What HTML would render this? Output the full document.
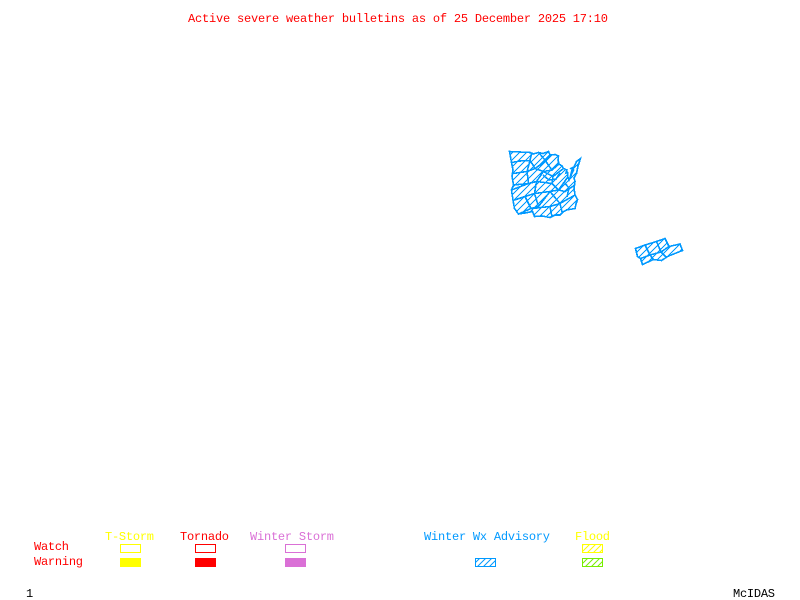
<!DOCTYPE html>
<html>
<head>
<meta charset="utf-8">
<style>
html,body{margin:0;padding:0;background:#fff;width:800px;height:600px;overflow:hidden}
svg{display:block}
text{font-family:"Liberation Mono",monospace;font-size:12px}
.m{fill:none;stroke:#0099ff;stroke-width:1.6;shape-rendering:crispEdges}
</style>
</head>
<body>
<svg width="800" height="600" viewBox="0 0 800 600" xmlns="http://www.w3.org/2000/svg">
<defs>
<pattern id="hm" width="7" height="7" patternUnits="userSpaceOnUse">
<path d="M-2 2L2 -2M0 7L7 0M5 9L9 5" stroke="#0099ff" stroke-width="1.3" fill="none" shape-rendering="crispEdges"/>
</pattern>
<pattern id="hb" width="6" height="6" patternUnits="userSpaceOnUse">
<path d="M-2 2L2 -2M0 6L6 0M4 8L8 4" stroke="#0099ff" stroke-width="1" fill="none"/>
</pattern>
<pattern id="hy" width="6" height="6" patternUnits="userSpaceOnUse">
<path d="M-2 2L2 -2M0 6L6 0M4 8L8 4" stroke="#ffff00" stroke-width="1" fill="none"/>
</pattern>
<pattern id="hg" width="6" height="6" patternUnits="userSpaceOnUse">
<path d="M-2 2L2 -2M0 6L6 0M4 8L8 4" stroke="#76ee00" stroke-width="1" fill="none"/>
</pattern>
</defs>

<text x="188" y="22" fill="#ff0000" textLength="420" lengthAdjust="spacing">Active severe weather bulletins as of 25 December 2025 17:10</text>

<!-- main advisory area -->
<polygon class="m" style="fill:url(#hm)" points="509.5,151.5 520,152 530,152.5 533,154 538.5,152.5 543,153.5 548.5,151.5 550,155 555,154.5 558.5,156 558,160 559,164 562,166 563.5,168.5 567,170 566,173 567.5,172.5 568,177.5 569,180 573.5,170 571,168.5 574,167 576.5,161.5 580.5,158.5 578,166 576.5,173.5 574,178 575,181.5 574,188 575,195 577.5,199.5 576,204 575,208.5 566.5,210 563,212 560,215 555,215 550,217.5 542,216 534.5,216.5 532.5,211.5 525,213 518.5,214 514.5,208.5 513,200 511.5,190 513.5,185 512,176 513,170 511.5,162.5"/>
<g class="m">
<path d="M511.5 162.5L520 161L530 160.5L532 152.5"/>
<path d="M530 160.5L533 165L535 168.5L540 165L545 160L538.5 152.5"/>
<path d="M545 160L550 155"/>
<path d="M545 160L549 166L552 170L559 164"/>
<path d="M513 173.5L527 171.5L530 160.5"/>
<path d="M527 171.5L535 168.5L543.5 171.5L552 170"/>
<path d="M513.5 185L528.5 183.5L527 171.5"/>
<path d="M528.5 183.5L536.5 181.5L543.5 171.5L553 176.5L563.5 168.5"/>
<path d="M511.5 190L528.5 183.5"/>
<path d="M536.5 181.5L534.5 193.5L525 196.5L531 208.5L518.5 214"/>
<path d="M514.5 200L525 196.5"/>
<path d="M536.5 181.5L552 183.5L553 176.5"/>
<path d="M552 183.5L558.5 190L567.5 177.5"/>
<path d="M534.5 193.5L550 191.5L558.5 190"/>
<path d="M534.5 193.5L538.5 206.5L531 208.5"/>
<path d="M538.5 206.5L550 191.5L560 203.5L575 195"/>
<path d="M532.5 208.5L550 206.5L560 203.5"/>
<path d="M550 206.5L552 217"/>
<path d="M560 203.5L562 212"/>
<path d="M558.5 190L565 191.5L575 185"/>
<path d="M543 175L549 180L556 179L560 173"/>
<path d="M564 182L569 188L567 197"/>
<path d="M570 178L572 170"/>
</g>

<!-- second advisory area -->
<polygon class="m" style="fill:url(#hm)" points="635.5,248.5 645,245 656.5,241.5 665,238.5 669,246.5 680,244 682.5,250.5 668.5,256 661.5,260.5 653.5,259.5 642.5,264.5 640.5,258.5 637.5,256.5"/>
<g class="m">
<path d="M645 245L650 255L640.5 258.5"/>
<path d="M656.5 241.5L661 252L650 255L653.5 259.5"/>
<path d="M661 252L669 246.5"/>
<path d="M661 252L666 257"/>
</g>

<!-- legend -->
<text x="105" y="540" fill="#ffff00" textLength="49">T-Storm</text>
<text x="180" y="540" fill="#ff0000" textLength="49">Tornado</text>
<text x="250" y="540" fill="#da70d6" textLength="84">Winter Storm</text>
<text x="424" y="540" fill="#0099ff" textLength="126">Winter Wx Advisory</text>
<text x="575" y="540" fill="#ffff00" textLength="35">Flood</text>
<text x="34" y="550" fill="#ff0000" textLength="35">Watch</text>
<text x="34" y="565" fill="#ff0000" textLength="49">Warning</text>

<g shape-rendering="crispEdges" stroke-width="1">
<rect x="120.5" y="544.5" width="20" height="8" fill="none" stroke="#ffff00"/>
<rect x="195.5" y="544.5" width="20" height="8" fill="none" stroke="#ff0000"/>
<rect x="285.5" y="544.5" width="20" height="8" fill="none" stroke="#da70d6"/>
<rect x="120" y="558" width="21" height="9" fill="#ffff00"/>
<rect x="195" y="558" width="21" height="9" fill="#ff0000"/>
<rect x="285" y="558" width="21" height="9" fill="#da70d6"/>
</g>
<rect x="475.5" y="558.5" width="20" height="8" fill="url(#hb)" stroke="#0099ff"/>
<rect x="582.5" y="544.5" width="20" height="8" fill="url(#hy)" stroke="#ffff00"/>
<rect x="582.5" y="558.5" width="20" height="8" fill="url(#hg)" stroke="#76ee00"/>

<text x="26" y="597" fill="#000000">1</text>
<text x="733" y="597" fill="#000000" textLength="42">McIDAS</text>
</svg>
</body>
</html>
